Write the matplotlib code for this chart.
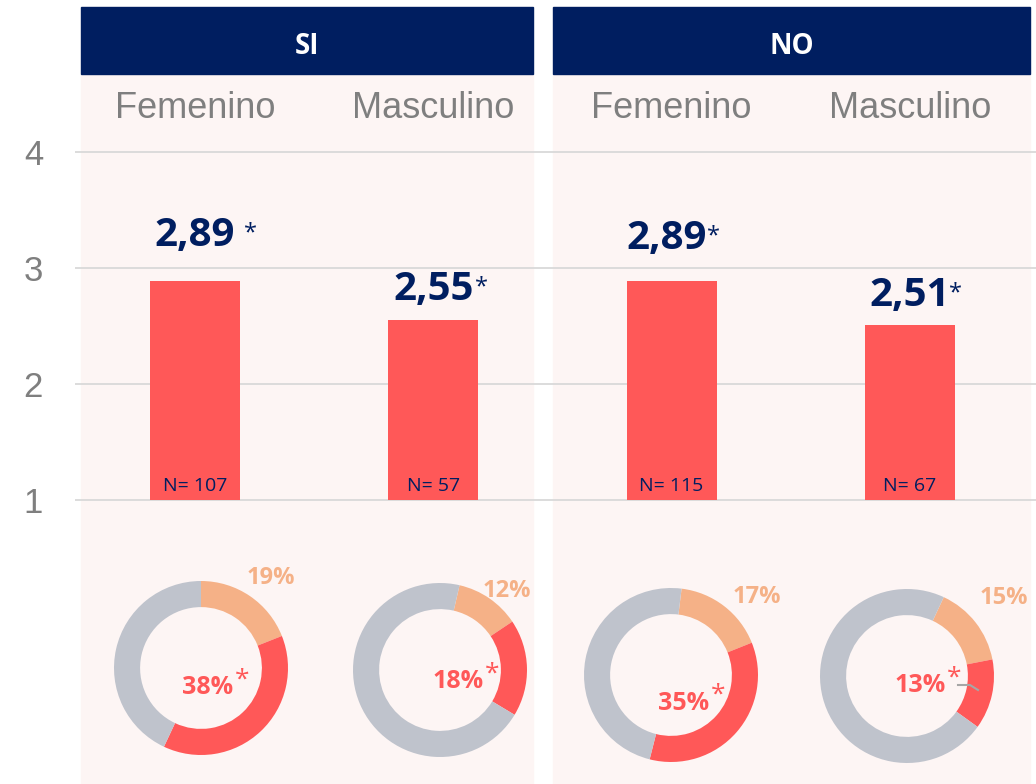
import numpy as np
import matplotlib
matplotlib.use("Agg")
import matplotlib.pyplot as plt
from matplotlib.patches import Rectangle
from matplotlib.lines import Line2D
from matplotlib.transforms import blended_transform_factory

# data
groups = ["SI", "NO"]
categories = ["Femenino", "Masculino", "Femenino", "Masculino"]
means = [2.89, 2.55, 2.89, 2.51]
mean_labels = ["2,89", "2,55", "2,89", "2,51"]
n_labels = ["N= 107", "N= 57", "N= 115", "N= 67"]
pct_top = [19, 12, 17, 15]      # orange slice
pct_red = [38, 18, 35, 13]      # red slice
yticks = [1, 2, 3, 4]

# style
W, H = 1036, 784
navy = "#001E60"
red = "#FF5858"
orange = "#F5B187"
grey_ring = "#BFC3CC"
panel = "#FDF5F4"
txt_grey = "#7F7F7F"
start_angles = [90, 77, 83, 65]
label_dy = [45, 31, 42, 29]
label_dx = [0, 0, -5, 0]
star_dx = [55, 48, 42, 46]

fig = plt.figure(figsize=(W / 100, H / 100), dpi=100)
fig.patch.set_facecolor("white")

# panels + headers
for x0, x1, g in [(81, 533, groups[0]), (553, 1030, groups[1])]:
    fig.patches.append(Rectangle((x0 / W, 0), (x1 - x0) / W, (H - 75) / H,
                                 transform=fig.transFigure, color=panel, zorder=-2))
    fig.patches.append(Rectangle((x0 / W, 1 - 74 / H), (x1 - x0) / W, 67 / H,
                                 transform=fig.transFigure, color=navy, zorder=-2))
    fig.text((x0 + x1) / 2 / W, 1 - 47 / H, g, color="white", fontsize=20,
             fontweight="bold", family="Open Sans", ha="center", va="center")

# bar axes
ax = fig.add_axes([75 / W, 0, (W - 75) / W, 1])
ax.set_facecolor("none")
x = np.arange(len(means))
ax.bar(x, np.array(means) - 1, bottom=1, width=0.378, color=red, zorder=3)
ax.set_xlim(-0.5035, 3.529)
ax.set_ylim(-1.448, 5.310)
ax.set_yticks(yticks)
ax.set_yticklabels([str(t) for t in yticks], fontsize=25, color=txt_grey,
                   family="Liberation Sans")
ax.tick_params(axis="y", length=0, pad=23)
ax.set_xticks([])
ax.yaxis.grid(True, color="#D9D9D9", linewidth=1.3, zorder=1)
ax.set_axisbelow(True)
for s in ax.spines.values():
    s.set_visible(False)

tr = blended_transform_factory(ax.transData, fig.transFigure)
for i, v in enumerate(means):
    ax.text(i, 1 - 108 / H, categories[i], transform=tr, ha="center", va="center",
            fontsize=26, color=txt_grey, family="Liberation Sans")
    ax.annotate(mean_labels[i], (i, v), xytext=(label_dx[i], label_dy[i]),
                textcoords="offset pixels", ha="center", va="center",
                fontsize=29, fontweight="bold", color=navy, family="Open Sans")
    ax.annotate("*", (i, v), xytext=(star_dx[i], label_dy[i] + 2),
                textcoords="offset pixels", ha="center", va="center",
                fontsize=17, color=navy, family="Open Sans")
    ax.annotate(n_labels[i], (i, 1), xytext=(0, 14), textcoords="offset pixels",
                ha="center", va="center", fontsize=14, color=navy, family="Open Sans")

# donuts
centers = [(201, 668), (440, 670), (671, 675), (907, 676)]
r = 87
top_pos = [(271, 578), (507, 591), (757, 597), (1004, 598)]
red_pos = [(208, 688), (458, 682), (684, 703), (920, 686)]
for i, (cx, cy) in enumerate(centers):
    dax = fig.add_axes([(cx - r) / W, 1 - (cy + r) / H, 2 * r / W, 2 * r / H])
    vals = [pct_top[i], pct_red[i], 100 - pct_top[i] - pct_red[i]]
    dax.pie(vals, colors=[orange, red, grey_ring], startangle=start_angles[i],
            counterclock=False, radius=1, wedgeprops=dict(width=0.3, linewidth=0))
    dax.set_xlim(-1, 1)
    dax.set_ylim(-1, 1)
    dax.set_aspect("equal")
    dax.axis("off")
    tx, ty = top_pos[i]
    fig.text(tx / W, 1 - ty / H, f"{pct_top[i]}%", color=orange, fontsize=17,
             fontweight="bold", family="Open Sans", ha="center", va="center")
    rx, ry = red_pos[i]
    fig.text(rx / W, 1 - ry / H, f"{pct_red[i]}%", color=red, fontsize=18,
             fontweight="bold", family="Open Sans", ha="center", va="center")
    fig.text((rx + 34) / W, 1 - (ry - 8) / H, "*", color=red, fontsize=19,
             family="Open Sans", ha="center", va="center")

fig.lines.append(Line2D([958 / W, 970 / W, 978 / W],
                        [1 - 685 / H, 1 - 685 / H, 1 - 690 / H],
                        transform=fig.transFigure, color="#A6A6A6", linewidth=1.5))

fig.savefig("out.png", dpi=100, facecolor="white")
